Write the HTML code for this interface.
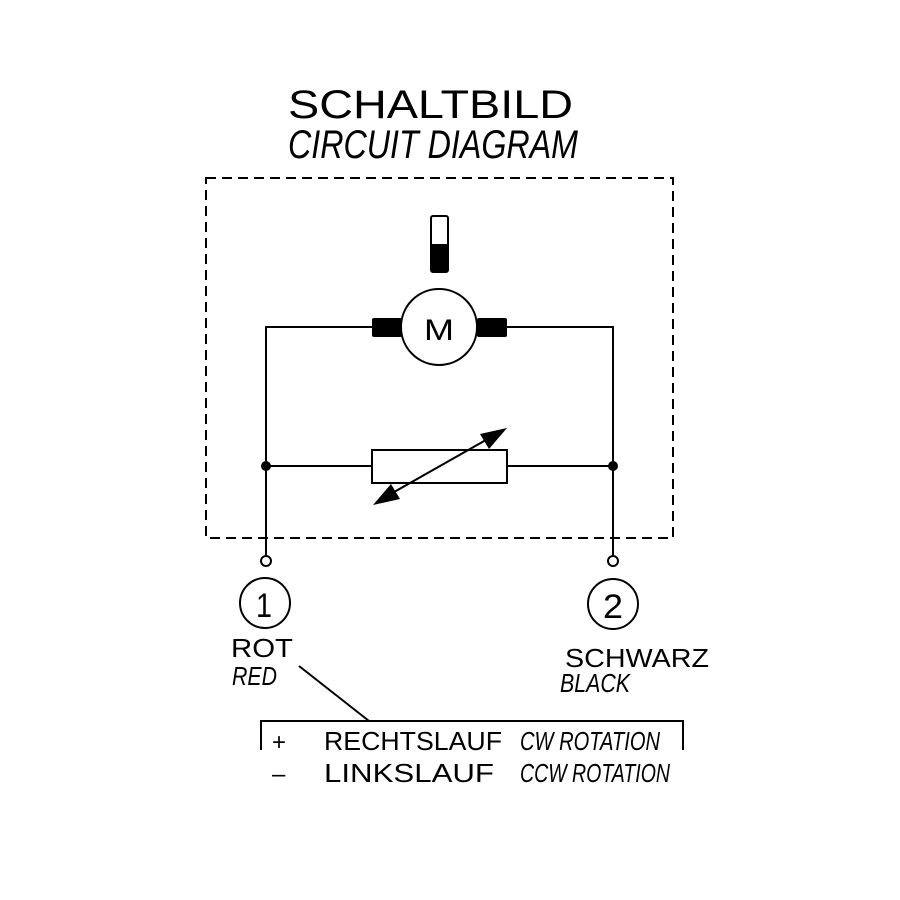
<!DOCTYPE html>
<html><head><meta charset="utf-8"><style>
html,body{margin:0;padding:0;background:#fff;}
svg{display:block;}
text{font-family:"Liberation Sans",sans-serif;fill:#000;}
</style></head><body>
<svg width="900" height="900" viewBox="0 0 900 900" xmlns="http://www.w3.org/2000/svg">
<rect x="0" y="0" width="900" height="900" fill="#fff"/>
<text x="288" y="118" font-size="40" textLength="285" lengthAdjust="spacingAndGlyphs" font-weight="300">SCHALTBILD</text>
<text x="288" y="158" font-size="40" font-style="italic" textLength="290" lengthAdjust="spacingAndGlyphs">CIRCUIT DIAGRAM</text>
<rect x="206" y="178" width="467" height="360" fill="none" stroke="#000" stroke-width="2" stroke-dasharray="10,6"/>
<rect x="431" y="216" width="17" height="56" rx="2" fill="#fff" stroke="#000" stroke-width="2"/>
<rect x="431" y="244" width="17" height="28" rx="2" fill="#000"/>
<g stroke="#000" stroke-width="2" fill="none">
<polyline points="372,327 266,327 266,556"/>
<polyline points="507,327 613,327 613,556"/>
<line x1="266" y1="466" x2="372" y2="466"/>
<line x1="507" y1="466" x2="613" y2="466"/>
<circle cx="439" cy="327" r="38" fill="#fff"/>
<rect x="372" y="450" width="135" height="33" fill="#fff"/>
<line x1="380" y1="500" x2="500" y2="432"/>
<circle cx="266" cy="561" r="5" fill="#fff"/>
<circle cx="613" cy="561" r="5" fill="#fff"/>
<circle cx="265" cy="603" r="25"/>
<circle cx="613" cy="604" r="25"/>
<line x1="299" y1="666" x2="369" y2="721"/>
<polyline points="261,750 261,721 683,721 683,750"/>
</g>
<rect x="372" y="318" width="30" height="19" rx="2" fill="#000"/>
<rect x="477" y="318" width="30" height="19" rx="2" fill="#000"/>
<text x="424" y="340" font-size="30" textLength="30" lengthAdjust="spacingAndGlyphs" font-weight="300">M</text>
<polygon points="507,428 480,434 489,449" fill="#000"/>
<polygon points="373,505 391,484 400,499" fill="#000"/>
<circle cx="266" cy="466" r="5" fill="#000"/>
<circle cx="613" cy="466" r="5" fill="#000"/>
<text x="256" y="617" font-size="34" textLength="16" lengthAdjust="spacingAndGlyphs">1</text>
<text x="603" y="618" font-size="34" textLength="20" lengthAdjust="spacingAndGlyphs">2</text>
<text x="231" y="657" font-size="26" textLength="62" lengthAdjust="spacingAndGlyphs">ROT</text>
<text x="232" y="685" font-size="26" font-style="italic" textLength="45" lengthAdjust="spacingAndGlyphs">RED</text>
<text x="565" y="667" font-size="26" textLength="144" lengthAdjust="spacingAndGlyphs">SCHWARZ</text>
<text x="560" y="692" font-size="26" font-style="italic" textLength="70" lengthAdjust="spacingAndGlyphs">BLACK</text>
<text x="272" y="750" font-size="24">+</text>
<text x="324" y="750" font-size="26" textLength="178" lengthAdjust="spacingAndGlyphs">RECHTSLAUF</text>
<text x="520" y="750" font-size="26" font-style="italic" textLength="140" lengthAdjust="spacingAndGlyphs">CW ROTATION</text>
<text x="272" y="782" font-size="24">–</text>
<text x="324" y="782" font-size="26" textLength="170" lengthAdjust="spacingAndGlyphs">LINKSLAUF</text>
<text x="520" y="782" font-size="26" font-style="italic" textLength="150" lengthAdjust="spacingAndGlyphs">CCW ROTATION</text>
</svg>
</body></html>
